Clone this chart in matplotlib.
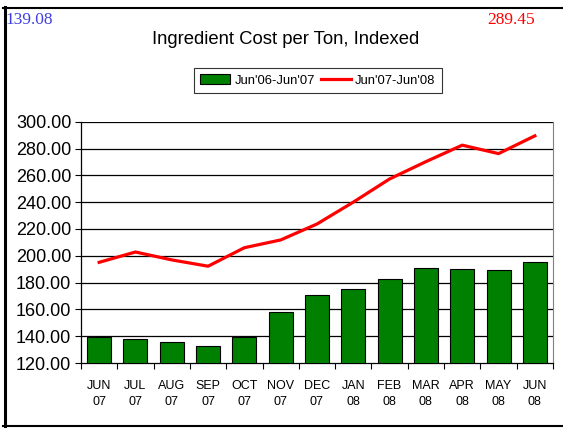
import matplotlib
matplotlib.use('Agg')
from matplotlib import pyplot as plt
from matplotlib import font_manager
from matplotlib.patches import Patch
from matplotlib.lines import Line2D

months = ['JUN\n07', 'JUL\n07', 'AUG\n07', 'SEP\n07', 'OCT\n07', 'NOV\n07', 'DEC\n07',
          'JAN\n08', 'FEB\n08', 'MAR\n08', 'APR\n08', 'MAY\n08', 'JUN\n08']
cost_0607 = [139.08, 137.7, 135.4, 132.5, 139.4, 158.3, 171.0,
             175.4, 182.4, 190.7, 189.9, 189.2, 195.1]
cost_0708 = [195.1, 202.8, 196.9, 192.2, 206.0, 211.8, 223.7,
             240.0, 257.3, 270.2, 282.5, 276.2, 289.45]
yticks = [120, 140, 160, 180, 200, 220, 240, 260, 280, 300]

# narrow font if we have it
try:
    font_manager.findfont('Liberation Sans Narrow', fallback_to_default=False)
    narrow = 'Liberation Sans Narrow'
except Exception:
    narrow = 'Liberation Sans'

W, H = 563, 428
fig = plt.figure(figsize=(W / 100, H / 100), dpi=100)
ax = fig.add_axes([81 / W, 1 - 363 / H, (553 - 81) / W, (363 - 121.7) / H])

x = list(range(len(months)))
ax.bar(x, cost_0607, width=0.66, color='#008000', edgecolor='black', linewidth=0.8, zorder=3)
ax.plot(x, cost_0708, color='#ff0000', linewidth=2.3, zorder=4)

ax.set_xlim(-0.5, len(months) - 0.5)
ax.set_ylim(120, 300)
ax.set_yticks(yticks)
ax.set_yticklabels(['%.2f' % v for v in yticks], family='Liberation Sans', fontsize=13)
for v in yticks[1:]:
    ax.axhline(v, color='black', linewidth=0.9, zorder=1)

ax.set_xticks(x)
ax.set_xticklabels(months, family=narrow, fontsize=9, linespacing=1.45)
ax.set_xticks([i - 0.5 for i in range(len(months) + 1)], minor=True)
ax.tick_params(axis='x', which='major', length=0, pad=12)
ax.tick_params(axis='x', which='minor', length=4, width=0.8, direction='out')
ax.tick_params(axis='y', length=4, width=0.8, direction='out', pad=3)

ax.spines['top'].set_visible(False)
ax.spines['right'].set_color('#808080')
for s in ['left', 'bottom']:
    ax.spines[s].set_linewidth(0.9)

fig.text(286 / W, 1 - 39.5 / H, 'Ingredient Cost per Ton, Indexed', family=narrow,
         fontsize=13.3, ha='center', va='center')

handles = [Patch(facecolor='#008000', edgecolor='black', linewidth=0.8),
           Line2D([0], [0], color='#ff0000', linewidth=2.3)]
leg = fig.legend(handles, ["Jun'06-Jun'07", "Jun'07-Jun'08"], loc='center',
                 bbox_to_anchor=(318 / W, 1 - 80.5 / H), ncol=2, frameon=True,
                 fancybox=False, prop={'family': narrow, 'size': 9.4},
                 handlelength=2.3, handletextpad=0.3, columnspacing=0.5,
                 borderpad=0.5, borderaxespad=0, handleheight=0.8)
leg.get_frame().set_edgecolor('black')
leg.get_frame().set_linewidth(0.8)

fig.text(5 / W, 1 - 12 / H, '139.08', color='#4040e0', family='Liberation Serif',
         fontsize=12.5, ha='left', va='top')
fig.text(487 / W, 1 - 12 / H, '289.45', color='#ff0000', family='Liberation Serif',
         fontsize=12.5, ha='left', va='top')

# outer frame
fig.add_artist(Line2D([4.5 / W, 4.5 / W], [1 - 7 / H, 1 - 427 / H], color='black',
                      linewidth=2.2, transform=fig.transFigure))
fig.add_artist(Line2D([3 / W, 1.0], [1 - 7.5 / H, 1 - 7.5 / H], color='black',
                      linewidth=1.5, transform=fig.transFigure))
fig.add_artist(Line2D([3 / W, 1.0], [1 - 426 / H, 1 - 426 / H], color='black',
                      linewidth=1.5, transform=fig.transFigure))

fig.savefig('out.png', dpi=100)
